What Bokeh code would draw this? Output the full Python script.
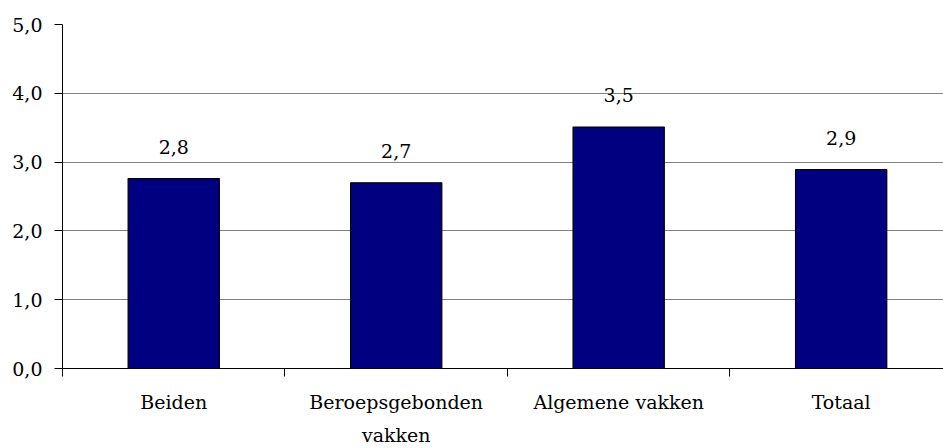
from bokeh.plotting import figure
from bokeh.models import FixedTicker, Range1d, ColumnDataSource, LabelSet
from bokeh.core.properties import value
from bokeh.embed import file_html
from bokeh.resources import INLINE

categories = ["Beiden", "Beroepsgebonden\nvakken", "Algemene vakken", "Totaal"]
values = [2.76, 2.70, 3.51, 2.89]
y_ticks = [0, 1, 2, 3, 4, 5]
y_tick_labels = ["0,0", "1,0", "2,0", "3,0", "4,0", "5,0"]

FONT = "DejaVu Serif"
FS = "19px"

xs = [i + 0.5 for i in range(len(categories))]
labels = [f"{v:.1f}".replace(".", ",") for v in values]
src = ColumnDataSource(dict(x=xs, top=values, label=labels))

p = figure(width=943, height=448, output_backend="svg", toolbar_location=None,
           x_range=Range1d(0, 3.96), y_range=Range1d(0, 5),
           min_border_left=62, min_border_right=0, min_border_top=24, min_border_bottom=80)
p.outline_line_color = None
p.background_fill_color = "white"
p.border_fill_color = "white"

p.vbar(x="x", top="top", width=0.41, bottom=0, source=src,
       fill_color="#000080", line_color="black", line_width=1.2)

p.add_layout(LabelSet(x="x", y="top", text="label", source=src, text_align="center",
                      text_baseline="bottom", y_offset=25, text_font=value(FONT),
                      text_font_size=value(FS), text_color="black"))

# y axis
p.yaxis.ticker = FixedTicker(ticks=y_ticks, minor_ticks=[])
p.yaxis.major_label_overrides = {t: l for t, l in zip(y_ticks, y_tick_labels)}
p.yaxis.major_label_text_font = FONT
p.yaxis.major_label_text_font_size = FS
p.yaxis.major_label_text_color = "black"
p.yaxis.major_tick_out = 8
p.yaxis.major_tick_in = 0
p.yaxis.major_label_standoff = 12
p.yaxis.axis_line_color = "black"
p.yaxis.major_tick_line_color = "black"

# x axis
p.xaxis.ticker = FixedTicker(ticks=xs, minor_ticks=list(range(len(categories) + 1)))
p.xaxis.major_label_overrides = {x: c for x, c in zip(xs, categories)}
p.xaxis.major_label_text_font = FONT
p.xaxis.major_label_text_font_size = FS
p.xaxis.major_label_text_line_height = 1.5
p.xaxis.major_label_text_color = "black"
p.xaxis.major_tick_line_color = None
p.xaxis.major_tick_out = 0
p.xaxis.major_tick_in = 0
p.xaxis.minor_tick_out = 8
p.xaxis.minor_tick_in = 0
p.xaxis.minor_tick_line_color = "black"
p.xaxis.major_label_standoff = 14
p.xaxis.axis_line_color = "black"

p.xgrid.grid_line_color = None
p.ygrid.grid_line_color = "#808080"
p.ygrid.grid_line_width = 1

open("out.html", "w").write(file_html(p, INLINE))
